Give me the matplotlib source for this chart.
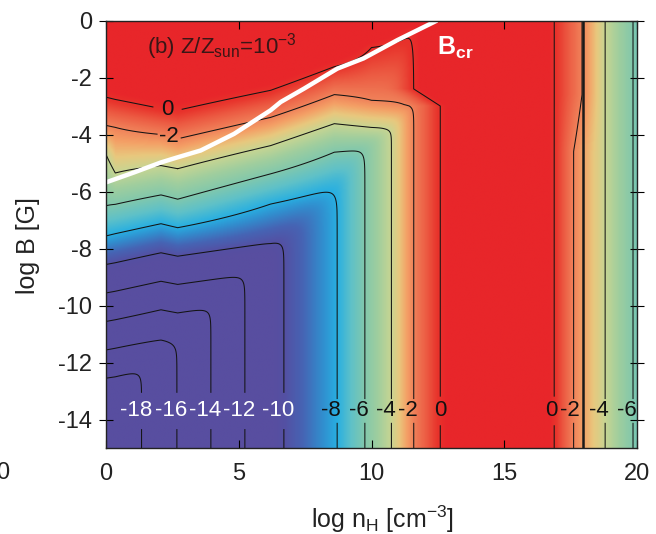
import numpy as np
import matplotlib

matplotlib.use("Agg")
import matplotlib.pyplot as plt
from matplotlib.colors import LinearSegmentedColormap

plt.rcParams["font.family"] = ["Liberation Sans", "DejaVu Sans"]
plt.rcParams["axes.unicode_minus"] = False
plt.rcParams["mathtext.fontset"] = "custom"
plt.rcParams["mathtext.rm"] = "Liberation Sans"
plt.rcParams["mathtext.it"] = "Liberation Sans:italic"
plt.rcParams["mathtext.bf"] = "Liberation Sans:bold"

# ---- values --------------------------------------------------------------
contour_levels = [-18, -16, -14, -12, -10, -8, -6, -4, -2, 0]

# density side: log n_H where each level crosses the bottom of the panel
rise_levels = [-20, -18, -16, -14, -12, -10, -8, -6, -4, -2, 0, 2, 4, 8]
rise_n = [0.0, 1.34, 2.67, 3.95, 5.23, 6.70, 8.71, 9.75, 10.75, 11.59, 12.59, 13.6, 14.6, 16.6]
# above log B ~ -2.4 the density side sits about one dex lower
rise_shift_b = [-3.0, -2.4]
rise_shift_n = [0.0, 1.0]

# high density side (falls again)
fall_levels = [8, 3, 0, -2, -4, -6, -8]
fall_n_low = [14.5, 16.0, 16.88, 17.61, 18.80, 19.85, 21.0]   # log B < -4.6
fall_n_high = [14.5, 16.0, 16.88, 17.93, 18.80, 19.85, 21.0]  # log B > -2.6
fall_blend_b = [-4.6, -2.6]

# field side: log B of each level at a few log n_H columns
g_levels = [-20, -18, -16, -14, -12, -10, -8, -6, -4, -2, 0, 2, 4]
g_cols_n = [0.0, 0.35, 2.07, 2.7, 6.2, 8.6, 10.0, 11.5, 11.9, 12.8]
g_cols_b = [
    [-13.55, -12.55, -11.56, -10.56, -9.56, -8.56, -7.56, -6.50, -4.70, -3.68, -2.69, -1.70, -0.70],
    [-13.50, -12.50, -11.50, -10.50, -9.50, -8.50, -7.48, -6.45, -5.35, -3.75, -2.77, -1.80, -0.80],
    [-13.10, -12.10, -11.20, -10.15, -9.15, -8.15, -7.13, -6.12, -5.09, -4.00, -3.09, -2.10, -1.10],
    [-13.25, -12.25, -11.30, -10.26, -9.26, -8.27, -7.27, -6.27, -5.20, -4.15, -3.15, -2.15, -1.15],
    [-12.60, -11.60, -10.70, -9.80, -8.80, -7.80, -6.44, -5.38, -4.39, -3.40, -2.45, -1.50, -0.55],
    [-12.00, -11.00, -10.10, -9.20, -8.20, -7.20, -5.85, -4.62, -3.62, -2.60, -1.62, -0.80, 0.00],
    [-11.60, -10.60, -9.70, -8.80, -7.80, -6.80, -5.60, -4.50, -3.75, -2.80, -0.95, -0.20, 0.60],
    [-11.30, -10.30, -9.40, -8.50, -7.50, -6.50, -5.30, -4.30, -3.80, -2.95, -0.35, 0.30, 1.00],
    [-11.20, -10.20, -9.30, -8.40, -7.40, -6.40, -5.20, -4.20, -3.75, -2.95, -0.30, 0.35, 1.05],
    [0.70, 1.70, 2.60, 3.50, 4.50, 5.50, 6.70, 7.70, 8.20, 9.05, 11.65, 12.30, 13.00],
]

# critical field line B_cr
bcr_n = [0.0, 1.06, 2.07, 2.7, 3.57, 4.82, 6.2, 6.58, 7.46, 8.71, 9.7, 10.97, 12.47]
bcr_b = [-5.68, -5.33, -4.98, -4.80, -4.56, -3.98, -3.15, -2.86, -2.39, -1.69, -1.33, -0.69, 0.0]

# extra dark vertical line on the high density side
extra_line_n = [17.95]

# colour scale
cmap_values = [-10.5, -10.0, -9.3, -8.6, -8.0, -7.0, -6.0, -5.0, -4.0, -3.3, -2.6, -2.0, -1.0, -0.2, 0.5]
cmap_colors = ["#584ea0", "#5450a3", "#4664b4", "#328ccd", "#28afe1", "#5fc1c8", "#82c8ac",
               "#a0ce9e", "#c8d592", "#e8c87e", "#f4a066", "#f0825a", "#ec5a42", "#e8342c", "#e8262a"]

x_ticks = [0, 5, 10, 15, 20]
y_ticks = [0, -2, -4, -6, -8, -10, -12, -14]


def build_field():
    nh = np.linspace(0, 20, 801)
    lb = np.linspace(-15, 0, 601)
    N, B = np.meshgrid(nh, lb)

    shift = np.interp(lb, rise_shift_b, rise_shift_n)[:, None]
    f_rise = np.interp(N + shift, rise_n, rise_levels)
    w = np.interp(lb, fall_blend_b, [0.0, 1.0])[:, None]
    f_fall = (1 - w) * np.interp(N, fall_n_low, fall_levels) + w * np.interp(N, fall_n_high, fall_levels)
    F = np.minimum(f_rise, f_fall)

    cols = np.array([np.interp(lb, cb, g_levels) for cb in g_cols_b])
    G = np.array([np.interp(nh, g_cols_n, cols[:, j]) for j in range(len(lb))])

    s = 0.35
    V = s * np.logaddexp(F / s, G / s)
    return N, B, V


N, B, V = build_field()

vmin, vmax = cmap_values[0], cmap_values[-1]
pos = [(v - vmin) / (vmax - vmin) for v in cmap_values]
cmap = LinearSegmentedColormap.from_list("xe", list(zip(pos, cmap_colors)))

fig = plt.figure(figsize=(6.56, 5.34), dpi=100)
ax = fig.add_axes([106 / 656, 1 - 448 / 534, 531 / 656, 427.5 / 534])
ax.imshow(V, extent=[0, 20, -15, 0], origin="lower", aspect="auto", cmap=cmap,
          vmin=vmin, vmax=vmax, interpolation="bilinear")
cs = ax.contour(N, B, V, levels=contour_levels, colors="#141414", linewidths=0.75,
                linestyles="solid")
for xn in extra_line_n:
    ax.axvline(xn, color="#1a1a1a", lw=1.8)

# contour label spots along the bottom row and on the upper left contours
row_b = -13.7
label_spots = [(1.34, row_b), (2.67, row_b), (3.95, row_b), (5.23, row_b), (6.70, row_b),
               (8.71, row_b), (9.75, row_b), (10.75, row_b), (11.59, row_b), (12.59, row_b),
               (16.88, row_b), (17.61, row_b), (18.80, row_b), (19.85, row_b),
               (2.32, -3.09), (2.38, -4.07)]


def label_fmt(v):
    return " 0 " if int(round(v)) == 0 else f"{int(round(v))}"


ax.clabel(cs, levels=contour_levels, manual=label_spots, inline=True, inline_spacing=2,
          fmt=label_fmt, colors="#111111", fontsize=16)
for t in cs.labelTexts:
    t.set_rotation(0)
    x, y = t.get_position()
    level = int(t.get_text().strip())
    t.set_text(str(level))
    if y < -13:
        if level <= -10 and x < 8:
            t.set_color("white")
        if x > 19.5:
            t.set_position((19.62, y))
        elif x > 16 and level == 0:
            t.set_position((x - 0.1, y))
        elif x > 16 and level == -2:
            t.set_position((x - 0.13, y))
        elif level != 0:
            t.set_position((x - 0.22, y))

ax.plot(bcr_n, bcr_b, color="white", lw=3.2, solid_capstyle="butt", clip_on=True)
ax.text(12.45, -0.95, r"$\mathbf{B}_{\mathbf{cr}}$", color="white", fontsize=18,
        va="center", ha="left")
ax.text(1.55, -0.9, r"(b) Z/Z$_{\rm sun}$=10$^{-3}$", color="#3a1616", fontsize=16,
        va="center", ha="left")

ax.set_xlim(0, 20)
ax.set_ylim(-15, 0)
ax.set_xticks(x_ticks)
ax.set_yticks(y_ticks)
ax.set_xticklabels([str(v) for v in x_ticks])
ax.set_yticklabels([str(v) for v in y_ticks])
ax.tick_params(direction="in", length=6, width=0.8, top=True, right=True,
               labelsize=17, labelcolor="#222222")
ax.tick_params(axis="x", pad=11)
ax.tick_params(axis="y", which="both", left=True, direction="inout", length=10, pad=5)
ax.tick_params(axis="y", right=True)
for sp in ax.spines.values():
    sp.set_color("#222222")
    sp.set_linewidth(1.0)

fig.text(28 / 656, 1 - 246 / 534, "log B [G]", rotation=90, fontsize=18,
         ha="center", va="center", color="#222222")
fig.text(383 / 656, 1 - 519 / 534, r"log n$_{\rm H}$ [cm$^{-3}$]", fontsize=18,
         ha="center", va="center", color="#222222")
fig.text(9 / 656, 1 - 473 / 534, "0", fontsize=17, ha="right", va="center", color="#222222")

fig.savefig("out.png", dpi=100)
